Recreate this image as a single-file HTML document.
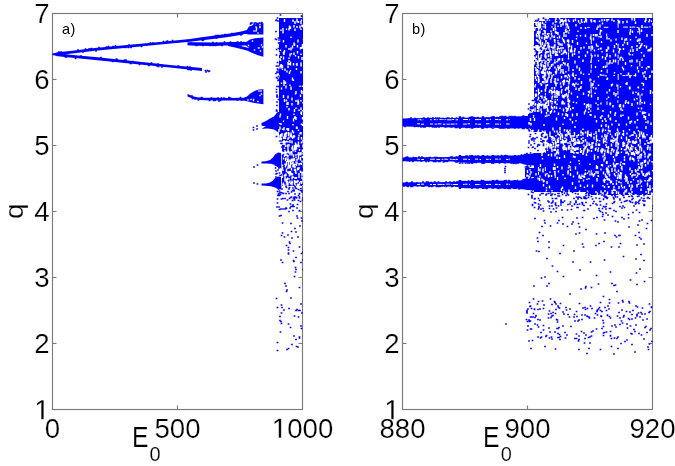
<!DOCTYPE html>
<html><head><meta charset="utf-8"><style>
html,body{margin:0;padding:0;background:#fff}
body{width:675px;height:466px;overflow:hidden}
svg{display:block;filter:blur(.4px)}
</style></head><body>
<svg width="675" height="466" viewBox="0 0 675 466" font-family="'Liberation Sans', sans-serif">
<defs><clipPath id="c"><rect x="52" y="13" width="251" height="397"/><rect x="402" y="13" width="251" height="397"/></clipPath></defs>
<rect x="52.5" y="13.5" width="250.0" height="396.0" fill="none" stroke="#7a7a7a" stroke-width="1.15"/>
<path d="M52.5 343.5h4M302.5 343.5h-4M52.5 277.5h4M302.5 277.5h-4M52.5 211.5h4M302.5 211.5h-4M52.5 145.5h4M302.5 145.5h-4M52.5 79.5h4M302.5 79.5h-4M177.5 409.5v-4M177.5 13.5v4" stroke="#7a7a7a" stroke-width="1.15" fill="none"/><rect x="402.5" y="13.5" width="250.0" height="396.0" fill="none" stroke="#7a7a7a" stroke-width="1.15"/>
<path d="M402.5 343.5h4M652.5 343.5h-4M402.5 277.5h4M652.5 277.5h-4M402.5 211.5h4M652.5 211.5h-4M402.5 145.5h4M652.5 145.5h-4M402.5 79.5h4M652.5 79.5h-4M527.5 409.5v-4M527.5 13.5v4" stroke="#7a7a7a" stroke-width="1.15" fill="none"/>
<g clip-path="url(#c)">
<path fill="#0000ff" d="M52.3 53.5 60 52 70 51 95 48 135 44.3 160 41.9 190 38.9 200 37.6 215 35.6 230 33.5 240 31.8 246 30.3 246 33.3 240 35 230 36.7 215 38.8 200 40.6 190 41.7 160 44.5 135 46.9 95 50.8 70 53.8 60 54.8 52.3 55.1ZM52.3 53.5 60 53.6 70 54.7 95 57.1 135 61.2 170 65 202 68.1 202 71 170 67.6 135 64 95 59.9 70 57.5 60 56.4 52.3 55.1ZM187.5 42.3 195 42.3 215 42.5 230 42 245 42.1 247 42 247 45.2 245 45.5 230 45.2 215 45.9 195 45.7 187.5 45.3ZM228 43.5 236 45 245 47 252 49 252 52 245 50 236 47.8 228 46.1ZM244 31.5 247 29.8 249 26.5 252 25.6 255 24.6 258 23.6 263.4 23.2 263.4 34.6 255 34.5 249 34.4 244 33.8ZM244 43 247 41.5 250 39.6 255 38.3 263.4 37.4 263.4 56.8 258 55.2 253 53.3 249 51.5 246 49.8 250 48.8 246 45.6ZM187.5 93.9 190 95 193 96.3 197 97.3 205 97.7 215 97.8 230 97.9 240 97.7 246 97.9 246 100.7 240 100.5 230 100.5 215 100.6 205 100.3 197 99.7 193 98.5 190 97.4 187.5 96.5ZM243 98.2 247 96.5 250 93.8 255 90.8 259 89.6 263.4 89.2 263.4 104.2 258 103.6 252 102.5 247 101.2 243 100.5ZM261.5 123 266 121 270 118.5 274 116.5 277 112.5 280 111 282 132.5 278 132 274 129.5 268 128.5 261.5 128.8 266 126.2 261.5 125.8ZM261.5 161.6 266 161.2 270 160 273 157.5 275 154.5 278 152.5 281 153 281.5 168.5 278 167.5 275 165 271 163.8 266 163.5 261.5 163.4ZM261.5 183.6 266 183.4 270 182.6 273 180.5 275 178 278 176.5 281 177 281.5 189.5 278 189 275 187.5 271 186.2 266 185.8 261.5 185.6ZM402.5 118.4 430 118.1 460 117.8 490 117.2 520 116.3 535 115.6 535 128.8 520 128.3 490 127.8 460 127.4 430 126.9 402.5 126.6ZM402.5 157.4 455 157 462 156 520 155.5 527 153.9 535 153.4 535 165.4 527 164.9 520 163.3 462 162.6 455 161.6 402.5 161.2ZM402.5 182.4 455 182 462 180.9 520 180.5 527 179 535 178.7 535 190.3 527 190 520 188.5 462 187.9 455 186.6 402.5 186.2ZM458.8 155 461.2 155 461.2 163.8 458.8 163.8ZM458.8 180 461.2 180 461.2 189 458.8 189ZM458.8 116.3 461.2 116.3 461.2 128.7 458.8 128.7ZM470.8 155 473.2 155 473.2 163.8 470.8 163.8ZM470.8 180 473.2 180 473.2 189 470.8 189ZM470.8 116.3 473.2 116.3 473.2 128.7 470.8 128.7ZM481.8 155 484.2 155 484.2 163.8 481.8 163.8ZM481.8 180 484.2 180 484.2 189 481.8 189ZM481.8 116.3 484.2 116.3 484.2 128.7 481.8 128.7ZM491.8 155 494.2 155 494.2 163.8 491.8 163.8ZM491.8 180 494.2 180 494.2 189 491.8 189ZM491.8 116.3 494.2 116.3 494.2 128.7 491.8 128.7ZM503.8 155 506.2 155 506.2 163.8 503.8 163.8ZM503.8 180 506.2 180 506.2 189 503.8 189ZM503.8 116.3 506.2 116.3 506.2 128.7 503.8 128.7ZM513.8 155 516.2 155 516.2 163.8 513.8 163.8ZM513.8 180 516.2 180 516.2 189 513.8 189ZM513.8 116.3 516.2 116.3 516.2 128.7 513.8 128.7ZM279 18h27v3h-27zM549 18h105v3h-105zM279 21h27v3h-27zM534 21h123v3h-123zM279 24h27v3h-27zM534 24h123v3h-123zM279 27h27v3h-27zM534 27h123v3h-123zM279 30h27v3h-27zM534 30h123v3h-123zM279 33h27v3h-27zM534 33h123v3h-123zM279 36h27v3h-27zM534 36h123v3h-123zM279 39h27v3h-27zM534 39h123v3h-123zM279 42h27v3h-27zM534 42h123v3h-123zM279 45h27v3h-27zM546 45h111v3h-111zM279 48h27v3h-27zM546 48h111v3h-111zM279 51h27v3h-27zM534 51h123v3h-123zM279 54h27v3h-27zM534 54h123v3h-123zM279 57h27v3h-27zM534 57h123v3h-123zM279 60h27v3h-27zM534 60h123v3h-123zM279 63h27v3h-27zM534 63h123v3h-123zM279 66h27v3h-27zM534 66h123v3h-123zM279 69h27v3h-27zM534 69h123v3h-123zM279 72h27v3h-27zM534 72h123v3h-123zM279 75h27v3h-27zM534 75h123v3h-123zM279 78h27v3h-27zM534 78h123v3h-123zM279 81h27v3h-27zM534 81h123v3h-123zM279 84h27v3h-27zM534 84h123v3h-123zM279 87h27v3h-27zM534 87h123v3h-123zM279 90h27v3h-27zM534 90h123v3h-123zM279 93h27v3h-27zM534 93h123v3h-123zM279 96h27v3h-27zM534 96h123v3h-123zM279 99h27v3h-27zM534 99h123v3h-123zM279 102h27v3h-27zM534 102h123v3h-123zM279 105h27v3h-27zM534 105h123v3h-123zM279 108h27v3h-27zM534 108h123v3h-123zM279 111h27v3h-27zM531 111h126v3h-126zM279 114h27v3h-27zM528 114h129v3h-129zM279 117h27v3h-27zM528 117h129v3h-129zM279 120h27v3h-27zM528 120h129v3h-129zM279 123h27v3h-27zM528 123h129v3h-129zM279 126h27v3h-27zM528 126h129v3h-129zM279 129h27v3h-27zM531 129h123v3h-123zM279 132h27v3h-27zM546 132h108v3h-108zM279 135h27v3h-27zM546 135h108v3h-108zM282 138h24v3h-24zM546 138h108v3h-108zM282 141h24v3h-24zM546 141h108v3h-108zM282 144h24v3h-24zM546 144h108v3h-108zM282 147h24v3h-24zM546 147h108v3h-108zM282 150h24v3h-24zM546 150h108v3h-108zM282 153h24v3h-24zM534 153h120v3h-120zM282 156h24v3h-24zM534 156h123v3h-123zM282 159h24v3h-24zM534 159h123v3h-123zM282 162h24v3h-24zM534 162h123v3h-123zM282 165h24v3h-24zM534 165h120v3h-120zM282 168h24v3h-24zM525 168h129v3h-129zM282 171h24v3h-24zM525 171h129v3h-129zM282 174h24v3h-24zM525 174h129v3h-129zM282 177h24v3h-24zM534 177h120v3h-120zM282 180h24v3h-24zM534 180h123v3h-123zM282 183h24v3h-24zM534 183h123v3h-123zM534 186h123v3h-123zM534 189h123v3h-123zM588 192h66v3h-66z"/>
<path transform="scale(.5)" stroke="#fff" stroke-width="2.8" d="M569 38v6m17-5v5m8-7v6m9-4v3m496-3v3m13-6v4m7-4v3m3-1v6m3-6v6m6-7v6m1-5v6m15-5v5m4-7v5m12-4v6m8-7v6m0-7v4m2-3v3m10-1v6m21-7v5m5-5v4m5-4v3m3-3v3m7-4v5m12-3v3m28-6v5m5-5v6m22-3v6m1-9v6m7-4v4m-737 17v3m4-6v5m7-4v3m5-4v5m1-10v6m2-4v5m7-8v5m2-13v6m0 9v5m4-22v5m0 7v4m3-14v4m3 5v6m2-15v6m0 9v3m2-11v5m2-4v5m2 2v6m461-4v3m0-19v3m0 12v3m1-5v3m2-16v6m0-4v5m1-4v6m2 1v3m0-13v4m1 2v5m1-10v5m1 5v3m0-4v6m1-11v5m1 0v4m0-12v3m1 5v3m0-12v6m0 0v6m2 1v3m2-17v5m3-1v4m3 1v5m15-12v4m1 7v6m4-6v5m2-19v3m3 6v3m4-11v4m1-6v4m1 3v6m4-9v6m1-10v4m2-5v3m2 16v4m1-6v3m0-15v6m3-4v6m2 0v5m2 1v3m0-21v3m13 4v5m5-13v5m3 0v3m2 6v3m0-2v3m2-15v3m5-4v4m2 8v4m2-18v5m15-5v4m2-4v5m4 10v5m2-9v5m3-15v3m1 5v6m1 4v6m4-20v4m23-9v4m9-3v5m2-5v6m7-5v5m8-6v5m7 7v3m0 2v6m10-21v5m7 7v6m5-2v5m1-14v5m6-14v3m8-2v3m5-4v3m3 2v5m6 3v3m1-7v3m1 3v6m-755 16v6m7-23v6m16 6v3m14 3v6m11-7v3m466-14v6m0 5v4m1-12v5m1-12v3m0 13v5m0-22v6m2-7v5m1 4v5m0-9v4m1 0v4m0-1v6m1-18v6m1 12v6m3-12v5m2-12v4m2-10v3m1 11v6m1-10v3m0-12v6m0-1v3m0-7v5m2 4v6m2-4v5m0-6v3m1-9v4m2 0v5m1-9v3m3 6v4m1-18v3m1 1v5m1 0v5m4-3v4m1-5v4m0 3v5m2-21v5m2-4v5m2 6v3m1-13v6m3 1v6m6-2v4m2-1v6m1-20v5m0 0v5m4-13v5m0 3v5m2-13v4m1 14v5m2-5v6m16-9v3m1-9v3m2-12v3m5 6v3m10-4v5m10-1v6m6-4v6m0-13v4m4-4v5m3-5v5m4-1v3m2-10v5m2 1v5m1-16v3m11 10v6m4-3v3m4 0v4m10-6v4m4-21v6m8 9v5m6-3v5m3-6v5m7-17v6m1 8v3m4-20v5m7 7v3m3 3v5m1-22v3m2 12v6m16-15v6m10-6v4m5-6v4m1 8v3m1-20v6m0-2v3m1 6v6m1-18v6m-752 31v3m6-22v5m5 5v5m6 1v4m4-5v6m3-10v6m3-12v3m0-3v6m1-4v5m6-2v5m6-1v5m3-6v5m1-6v4m0-8v6m3 0v5m0-9v3m2 2v4m1-7v3m467-12v4m3-2v5m3-1v4m1-9v6m5-3v6m2-13v4m1 10v4m0-4v5m2-15v4m1 3v3m0-5v6m1-10v6m1 3v5m1-8v4m1 4v6m3-12v3m3-3v5m0 1v6m2-12v4m1-8v4m6 3v5m1-9v6m0-18v3m0 1v3m2-2v6m1 5v3m2-12v4m1 3v4m1 1v4m1-16v5m2 2v4m3-15v4m0-6v3m1 15v4m6-16v4m1-4v5m0-1v6m2-8v5m2 5v6m1-6v4m1-12v6m0 1v3m0-8v5m2-18v6m5 10v5m5-17v6m7 4v5m6-6v4m5-12v3m5 4v6m6-7v6m1-5v4m0-1v4m4 0v4m4-16v6m3-2v3m1 3v3m4-4v3m1-4v4m1-17v4m10 12v6m1-5v4m2-10v3m0-2v5m1-6v6m10 0v6m2-15v3m0 0v3m4-10v4m6 6v6m2-5v3m5-12v4m1 4v4m2-17v4m6-3v6m6 9v5m3-12v5m2 1v6m8-8v6m0-12v4m5 0v4m0-13v3m0 7v3m2-7v5m1-7v4m1-4v3m1-6v3m5 1v3m4-2v6m3 2v4m2-5v5m2-5v5m1-6v5m1-7v4m6-17v6m3 11v6m2-13v5m-755 7v6m2 6v5m1-3v4m1-10v4m5-3v6m0-16v6m1-4v5m1-10v5m9 10v3m2-11v6m3-7v3m5-4v5m3 0v3m4-11v5m2 5v3m0-2v4m5-10v3m2 4v6m7-2v3m0-3v6m457-10v6m1-7v4m0-12v5m1-8v6m0 7v5m2-2v6m1-13v5m5 0v4m0-18v6m2 7v6m0-18v4m1 10v5m1-11v4m0-1v3m1-15v4m0-3v3m0 3v3m5 7v3m2-13v6m1-11v6m1 1v6m1-15v5m3 10v5m0-20v4m0 11v4m1-12v5m1 3v5m3-20v5m0-1v6m1 5v4m0-11v5m0-3v4m4-14v6m1-6v4m4-4v3m0 1v6m1-5v5m2-10v5m1 1v4m1 5v6m0-6v3m3-4v5m0-20v5m4 1v3m2 6v6m1-17v4m2-8v6m2-7v6m1-4v3m2-1v5m4 7v3m5-19v3m2-2v4m1 2v6m4-8v5m0-10v4m9 8v4m0-14v5m8 12v5m5-15v5m4-12v5m9 3v5m6-6v4m6-4v5m0-5v4m8-11v3m1 7v5m6-3v6m2-9v3m1-7v6m6-3v5m7 4v6m4-6v6m0-18v6m7-11v5m2 8v6m2-8v3m3-1v3m1 0v4m12-17v4m2-1v3m4 8v6m1-17v3m9 8v6m9-21v3m1 10v5m4-13v5m21-2v6m1-12v4m2-7v5m1-1v6m0 5v4m-755 11v4m3-8v5m1-2v5m0-5v4m1-8v6m2-4v6m0 1v3m5-3v5m6-18v6m0 1v5m2-10v4m0-10v4m3-1v6m0-1v3m6-5v5m6 5v4m0-13v3m1-4v6m8-3v4m0-8v6m7-11v6m1-5v3m459-1v6m2 5v3m1-1v6m2-12v3m1 5v4m0-21v3m0-1v6m1 4v3m1-7v3m2-12v4m2 11v4m1-13v6m0-5v4m1-3v6m1-14v6m2 13v6m1-16v5m0 4v5m1-9v4m1 0v3m1-18v5m0 2v5m0 2v3m2-18v3m0-4v3m1 12v3m3-15v3m0 0v6m2 3v4m1-18v3m1 8v5m3-10v5m0-4v5m3-7v4m3-7v3m1 6v4m0-13v3m3 10v6m1-21v3m2 5v6m1 1v4m0-7v3m3-5v6m1-9v6m1 3v6m2-16v3m2 7v6m1-20v4m3-3v6m5-3v5m1-7v5m10 7v4m4-21v6m4 4v6m5-2v4m0-3v6m23-21v5m9 6v4m6-16v3m10 9v4m4-5v5m7-11v4m2-8v6m0-7v3m4 2v3m21 5v4m2-1v5m0-4v4m4-17v6m9-10v5m3 5v3m12 0v4m0-3v5m9-6v3m9-1v4m3-7v3m2-3v4m12 2v6m0-23v5m1 0v6m-753 18v5m16-14v4m5-2v5m2-8v3m4 12v6m2-2v3m15-20v5m8 4v4m0-8v5m461 0v6m2-15v6m0 9v4m2-13v3m0-1v3m0-12v5m2 5v6m1 1v5m0-6v5m5-20v3m1-4v6m0-5v5m2 3v5m0-14v6m1-8v6m1 5v6m1 0v4m0-12v4m0-9v5m0 1v3m1 2v4m5-17v5m0 12v6m1-10v4m1-12v3m1-5v5m0 0v6m1-14v5m3-2v3m0-4v5m0 9v5m1-8v3m1-8v5m3-7v3m4-9v4m0 10v5m1-18v6m1-8v6m3 10v5m5-18v3m2 5v5m3-14v4m1-3v4m2 11v6m1-15v5m0-4v4m2-5v4m0-12v3m3 8v4m2-9v4m2 5v6m0-12v4m6-7v4m1-7v6m1-1v4m3 0v5m2-10v3m6 4v4m4-17v5m5-1v3m11-3v3m2 7v6m17-11v3m4-7v3m2-11v4m9 6v3m2 4v3m1-5v4m14-15v3m13-1v3m15-4v5m3 1v5m11-9v6m6-13v5m9-1v5m2 1v5m2-13v5m2 7v6m7-7v3m1-6v5m4-14v5m4 11v5m2-7v4m2-16v3m-749 19v3m0 7v4m5-19v6m0 0v6m3-9v5m1 3v6m8-8v3m2 4v4m0-7v4m18-6v3m5-3v3m7-13v5m458 5v4m1-7v3m6-10v5m0 11v6m4-17v3m2-2v5m2-10v4m3-4v5m3 10v6m1-14v6m0-1v4m1-17v5m2 2v4m5 7v3m2-19v3m2 8v5m5-5v5m0-17v3m2-2v6m1-1v5m2-8v3m7-3v4m1 2v5m2 2v3m1-19v3m2 1v5m0-11v5m1-2v6m3 8v5m2-8v3m1-2v4m0-19v4m3 7v6m0-15v3m1-2v6m7-1v3m1-5v5m1-5v5m2-3v6m3 1v5m0-15v4m4-2v3m2 6v6m3-8v4m1-6v5m1-15v6m21-1v6m2-7v5m1 3v3m1-16v4m4 10v4m5-10v3m22 6v5m4-15v5m2-6v4m9-2v4m7-1v3m11-9v3m2-5v6m5 3v6m1-6v6m16-6v3m1-3v4m7-12v3m2 9v3m1-14v6m27 2v4m0-18v6m-747 24v6m2 2v6m4-5v4m3-12v6m8-2v6m7-15v3m1-7v6m4 11v5m5-15v5m2-14v6m1-4v6m464 6v3m3-6v3m0-7v5m2-5v6m0-13v3m3 15v3m1-6v3m2-14v4m3 3v3m1-14v4m1 7v6m4 0v6m1-10v3m4 0v5m6-19v4m4-5v4m0-5v3m1-1v6m0 5v6m0-15v5m1 2v3m1-12v4m3-6v6m1 6v4m3-13v6m1 1v6m0-16v5m1-2v4m0-1v4m0 8v3m3-14v5m0-10v3m0-2v6m5-8v6m2 2v6m2-5v6m1-4v5m2-9v6m3-8v5m1-2v3m1 0v5m1 1v6m2-24v6m5-1v4m12 3v4m12-11v5m10-8v3m0 3v5m2-12v6m4 2v6m7-10v3m6 6v6m18-17v4m3 6v3m11-12v6m3 0v3m1-7v5m34-8v5m3 9v4m3-18v3m2 10v3m2-13v5m1-6v5m4 8v6m3-17v4m17-11v5m0-2v5m5-5v4m4 8v3m3-13v6m0-2v6m1-6v3m-740 13v5m0 2v3m2-11v6m2 6v5m6-15v5m5 7v6m3-9v3m0-18v4m4 0v6m1-8v6m1 11v3m4-7v5m0-20v3m4 1v3m5-2v4m458-8v4m1 13v6m0-9v5m0-13v5m1-6v4m4-2v6m0-1v5m1-7v6m1-3v3m0-8v6m1-5v6m1-10v3m1-1v4m0-12v3m2 0v4m0 10v5m1-14v5m3-6v4m2 3v4m0-8v4m1-6v6m2-9v3m0 0v3m0 0v6m2-14v5m1 2v6m1-1v6m1-20v4m0 14v5m1-24v6m0 0v6m4-12v3m1-3v5m1 6v6m1-11v3m1 5v5m0-17v3m4 7v5m1-15v4m1-4v4m2 7v5m1-11v3m6 5v3m4-15v6m1-8v6m1-5v6m0-4v5m1 8v6m2-18v4m3 5v4m2 0v5m1-7v6m1-6v5m0-3v3m1-16v4m1 0v6m1-15v5m0 6v4m2 1v5m5-7v4m1-15v3m6-2v3m16-1v4m2 9v5m2-13v6m1-9v4m3-5v6m0-1v3m1-6v6m0 1v4m14-15v3m4 7v5m0-12v3m6-6v4m18-4v6m1-6v4m5 1v5m13-6v6m2-7v6m1 1v6m3-2v3m2-13v6m4-12v5m1-8v5m4-1v3m1-4v5m7-2v6m11-8v5m2 6v3m6-3v4m1-15v3m5-4v5m12-1v3m-741 21v4m1-8v4m14 1v6m12-1v6m1-16v3m1 4v4m1-6v4m2-2v6m10-17v5m1-4v6m2-10v3m0 11v5m456-3v6m1-19v3m3-4v3m2 5v6m2 0v6m6-22v4m8-2v5m8 4v3m2-10v4m1 1v4m1-13v3m3 6v3m3-10v6m2-8v5m6-4v4m4 10v6m4-16v5m8-3v4m4 3v4m3-12v6m1-11v3m2 4v6m5 3v3m1-3v4m4-14v6m9-7v6m15-9v6m8-6v3m3 2v3m2-3v4m8-1v5m11-3v3m1-2v4m2-8v4m2-14v4m4 12v4m7-11v6m3 1v3m1-17v5m0 8v6m9-14v5m1-8v4m11 1v5m4-5v3m11 1v6m17-14v6m1 7v4m10-19v6m3 1v6m0-13v5m3 4v4m0-12v3m0 8v5m7-13v5m10-10v5m1-1v6m2-7v4m0-7v5m2 6v5m1-1v6m-756 15v6m1-18v3m1 4v6m2-13v4m3 7v3m2-19v3m1 10v6m0-3v4m6-5v4m2-3v5m1-6v6m9-14v3m7 2v5m1-5v5m3 1v3m6-15v3m2-2v4m2-9v6m2-7v5m0 0v3m448 6v3m1-15v5m0 8v4m1-16v4m3-3v5m4 7v5m11-4v4m11-15v4m18 3v6m14-7v6m6-13v3m3 8v5m5-4v5m1-5v3m5-3v4m5-21v5m5 5v4m2-16v3m14 14v3m27-20v5m5 13v6m5-15v5m2-14v4m1 13v5m5-3v3m1-14v6m0-14v4m5 15v4m0-12v6m7-10v4m8-11v4m3 13v5m3-15v5m15-5v4m6 7v3m1-19v5m0-2v3m3-7v4m7-3v5m4 6v4m18-5v6m0-15v3m4-5v5m0-2v3m6-2v5m9 1v5m1-13v3m-752 24v6m1-8v3m0 3v6m1-9v4m2-7v5m0-7v5m3 2v5m0-3v3m2-11v6m1 1v4m0-6v3m1-10v4m0 6v3m1-10v6m1-10v4m3 7v5m1-16v6m0-6v3m0 2v3m1-7v5m0 3v4m3-7v3m1-8v5m0 2v3m1-6v6m2-14v3m0-4v5m0 8v5m2-15v4m0 4v5m1-6v5m1-4v4m8-1v6m1-11v4m2-8v3m2-4v5m1 5v5m3 0v6m3-6v4m0-22v4m0 13v3m1-5v4m454-20v5m1-3v5m10-4v4m10-6v6m1-5v4m4-5v5m2 8v4m1-11v4m0 1v5m0-1v5m0-11v3m1-5v6m1-1v6m5-8v3m0-11v5m0-2v6m3 0v5m1 1v3m1-9v5m1-4v5m1 1v3m2-21v4m0 10v4m3-9v3m2-12v4m1 13v3m1-4v6m0-18v5m1 5v3m2-10v4m1-11v5m1 9v5m0-9v4m0-9v3m3-2v6m1 4v5m0-12v6m0 3v5m5-9v3m1-10v5m2 4v6m1-16v6m2-10v3m1-3v6m3-4v6m1 0v4m1-4v4m0-5v6m1 0v5m3-11v5m1 4v5m0-8v3m2-15v6m0 0v3m1 4v6m0-7v3m4-9v6m2 2v4m1-14v4m5-11v6m0 2v3m1 4v4m2-16v4m1 6v3m0-12v6m5-8v4m0 11v5m4-15v6m0-11v6m1-8v4m0-1v5m3-1v4m3-4v5m6-6v3m0 3v6m4-17v6m1 1v6m0 0v5m1-1v3m1-3v3m9-11v4m1-15v5m2 13v3m1-6v5m2-12v6m2 1v4m0-6v3m2-7v4m2-8v3m4-8v5m1 2v3m1 9v5m2-5v5m0-13v4m2 4v6m1-10v3m3-1v6m1-6v3m0-14v6m3 3v6m0-17v3m1 4v6m0-9v4m4-7v4m4 4v5m2-11v3m2-4v6m0-12v5m6 10v6m0-8v6m1-13v3m0-4v4m3 9v5m1-5v6m2-13v3m3-5v3m3-4v4m2-10v5m2-2v3m2 8v3m1-10v6m4-1v4m0-18v3m2 7v4m0-7v5m1 6v5m3-20v6m2 0v5m1-2v5m1-12v4m1 0v5m2-2v5m4-9v3m6 3v6m0-5v5m2-7v5m0-3v3m1-8v3m1 2v5m1-4v5m0-2v5m0-7v5m-740 1v6m1-4v5m1-8v5m1-7v6m1 1v3m0 5v3m1-16v5m1 2v3m0-2v4m2-13v4m2 4v5m1-12v3m0 13v6m0-11v5m2-10v5m2-13v6m4-2v3m0-5v3m0-4v3m0 10v5m1-8v6m1 0v6m3-9v4m0 0v3m0-11v4m1-2v5m1-8v6m0 0v5m0-15v5m1 2v5m0-10v4m1-1v5m0-2v6m2-9v4m0-5v4m2-10v3m0-2v6m1 0v5m1 3v4m4-19v4m2 12v5m1-15v6m1-4v3m1-11v4m0 9v3m1-14v5m0 4v6m1-19v4m482 4v5m1-11v5m1 5v5m1-8v6m0-11v5m0 9v3m2-16v6m1-4v5m2-1v5m1-10v5m2 2v5m0-11v5m1 6v5m0-6v4m0-9v3m1-13v3m2-1v5m0 1v4m1 3v4m2-5v3m1-19v4m0 6v5m0-12v4m0 10v4m1-18v6m0 0v3m2-4v3m1-11v5m1 4v5m0 3v4m1-14v4m0-12v6m5-4v5m2-3v3m1-3v3m1 6v4m0-3v4m1-14v6m0-10v6m0 5v3m0 0v5m0-4v6m2-11v5m1-2v4m0-3v6m0-19v3m0-3v5m1-6v5m1-4v5m1 9v6m3-17v4m1 5v6m1-8v4m0-5v4m2 1v4m0-17v6m2-1v5m2-12v4m0 12v5m0-9v4m1-2v3m2-3v4m1-1v4m0-15v6m1-8v3m0 9v6m2-15v3m0 7v5m1-19v4m0 7v6m3-17v5m0 8v4m1-6v4m0-3v5m1-15v3m1-7v4m0-4v6m1-5v5m1-2v3m1 9v4m0-5v5m3-17v4m2-8v3m1-3v5m1 4v4m0 5v3m0-5v5m2-7v5m1-7v5m2-6v4m1-7v4m0-9v6m1 8v3m3-15v6m0 8v4m1-14v3m1-4v3m2 1v6m1-4v3m1-9v4m0-8v4m1 3v6m1-13v4m5 8v6m1-16v6m0 3v4m1-18v4m3 13v6m1-9v3m0-11v5m2-5v5m0-12v3m3 16v6m2-9v3m1-1v6m1-7v5m1-21v6m3-6v3m0 15v6m1-24v4m1 3v4m1 0v4m3 2v6m0-10v3m1-5v3m0 0v3m6-11v6m1 3v5m1-4v4m1-19v4m2 13v3m0-22v3m4 1v5m0-1v6m2 5v4m0-22v5m2 7v6m1-13v4m6 6v4m3-15v4m0 0v5m0-10v5m1-6v6m0 1v4m2-9v3m0 1v3m0 6v3m3-4v4m1-12v5m0-1v5m2-9v6m0-2v3m1-13v6m1 4v6m3-17v4m0 12v6m1-10v6m2-11v6m1 1v5m1-20v6m1 5v3m1-14v4m1-2v5m3 8v4m0-6v3m0-15v6m1-7v5m1 12v4m0-20v4m4 2v4m0-3v4m4-2v5m2 2v5m0-8v5m7-14v4m4-10v3m1 11v6m1-8v5m0-7v6m0-12v4m2-3v3m2 7v4m0-3v5m0-8v6m1-17v5m1-6v6m2-5v4m-739 17v6m1-4v3m1 7v4m1-15v3m1 3v4m1-8v5m0-11v6m1 10v6m1-14v4m0 3v4m0-16v5m2-5v3m1 3v6m0-6v5m0 4v6m1-14v3m0 3v3m0-9v5m1-14v6m1 12v5m2-21v4m0 0v4m1 8v4m2-6v5m0-20v5m1-2v6m1 6v4m2-3v5m0-13v5m0-6v4m1 3v4m1-3v5m2-21v3m1 9v3m0-8v4m2 5v5m2-15v3m1 1v4m0-6v4m0-9v5m0 6v4m3-14v6m1 7v3m0-7v4m0-10v3m1-7v6m0-6v3m3 5v4m1-11v4m3-9v5m475 1v6m1 4v3m12-11v4m6-5v6m7-6v6m3-8v3m0-4v5m1 4v5m0-17v6m1-6v4m2-2v6m2 5v4m10-8v6m13-16v6m1-5v4m2-2v3m1-4v3m1 6v4m1-11v4m2 4v4m3-12v3m3-3v4m5-6v4m1-3v3m1-6v3m3 2v5m1-9v6m1-7v3m5 4v5m2-12v6m8-6v4m6 10v6m0-11v5m7-2v5m8-15v5m2 4v4m2 2v6m1-17v6m1 1v6m5-19v6m2-4v5m5-3v6m1-10v3m4-1v3m0 7v4m2 1v6m3-16v6m1-10v3m1 0v6m2-8v4m1-4v4m6-5v3m6 11v5m0-10v4m3-13v5m3-4v3m0-4v3m2 0v5m3 4v6m1-8v6m2-15v6m2 5v5m0-15v5m1-6v6m1-5v4m0-6v5m0 8v4m1-1v4m1-17v6m2-10v3m2-2v5m2-7v5m1 6v6m0-13v4m1 10v4m1-21v5m3 1v3m1 1v5m1-10v5m5-11v5m2 6v3m0-10v6m1 8v6m5-14v6m2-10v6m1-6v4m0 8v4m2-16v4m8 5v6m-744 7v4m0 1v5m1 0v3m4-15v3m1-1v6m2-8v4m0 7v6m0-22v4m0-4v5m0 10v3m3-7v5m1-14v6m0-1v4m2 0v4m1-7v4m1-8v6m0-10v4m0 6v4m2 0v5m1-16v4m0-8v3m2 0v5m0 1v5m1-7v3m0-2v4m1-1v3m1-7v4m0 6v4m1-15v3m0 7v5m0-10v4m1 3v3m1-19v3m1 2v4m1-9v5m1 7v6m2-6v5m1-14v3m0-3v5m0 3v4m2-12v3m3-3v4m1-9v4m3 5v6m3-14v6m2 0v3m448 7v3m20-4v6m1-15v6m5 3v4m21-7v6m2-13v5m1 3v5m5-8v4m9-3v6m14-9v3m2-1v4m1-13v3m0 11v5m10-9v6m7-19v3m1 3v3m12 10v3m9-15v3m13 0v6m0-1v3m2-6v6m7-1v4m1-13v4m2-4v5m8-10v5m0 8v4m1-4v5m0-19v6m1 11v3m0-3v5m1-7v4m0-3v6m1-13v4m4-5v3m3 3v4m0-2v6m3-19v5m1-1v6m2 2v6m1-14v6m2-9v4m3-4v3m1 10v5m4-17v5m1-9v3m1 7v5m1-2v5m0-9v3m2-9v3m3-3v4m11 5v6m11-3v5m5-6v5m1-15v3m1 2v5m4-12v6m1 3v4m1-8v6m1-12v5m4-9v5m0-4v5m2 2v5m5-10v6m8-7v3m3-1v6m0 9v4m5-17v4m-748 17v5m0-1v5m1-5v4m4-6v3m1 2v6m0-11v6m0 4v4m1-14v3m1-5v5m1 5v3m0-3v6m0-5v6m2-9v5m0-17v3m2-1v3m1-6v4m0 10v3m1-12v6m0-11v5m2-3v4m0-6v6m1-3v6m2 2v6m0-13v4m1-2v3m0-4v3m1 2v4m4-2v4m1-17v5m1 8v4m0-15v5m1 6v3m5-7v6m0-10v6m3-11v5m3 7v5m0-15v5m0-1v3m0-3v5m2-8v3m0 11v5m1-5v3m0-6v4m1-2v4m0-5v6m1-13v5m1-11v6m1-1v6m443-5v6m1-15v6m1 4v4m3-2v6m1-11v4m2-9v5m10-1v5m4 4v4m3-3v6m1-11v4m4 2v4m2-20v4m1 14v6m4-18v6m3-7v3m3 0v6m1-5v4m2-11v3m3 4v4m6-12v3m1 1v5m5 3v6m2-19v4m9 3v3m4 4v3m6-14v5m0-8v4m5 1v6m6-1v4m8-9v3m0-6v5m3 3v6m1-8v4m2 0v5m2-3v3m1-9v5m3-3v4m0 4v4m2-11v4m0-9v4m2-6v5m3 7v3m1-15v3m3 8v3m0-18v4m2 2v3m0-2v3m4-6v6m3-3v6m2-8v5m3-9v5m2 9v4m2-10v3m0-11v6m1 3v3m10 5v4m0-20v6m2 8v3m0-1v6m1-7v4m1-15v6m1-2v5m2 0v4m0-8v5m2-13v5m0 7v5m2-20v5m1 1v6m0 4v5m10-16v5m2-1v3m2-10v3m2 8v4m4-9v5m0-1v5m1-8v6m0-7v6m1-11v4m1 0v5m0 1v5m0-8v4m1-10v3m7 8v3m1-7v4m0-7v5m1 5v5m1-12v5m1-3v6m0-1v3m7-16v4m3 0v5m0-15v6m2 2v4m1 6v3m3-13v4m2-12v5m1 8v3m2-6v3m0-8v4m3-3v4m5-9v3m1-3v6m2 0v4m1-5v6m3-1v3m2-6v5m1-7v3m2-4v6m3-8v5m0 11v4m0-6v3m1-13v3m1 6v5m0-7v4m2-3v3m3-18v3m3 10v6m-742 12v5m0-9v3m1-2v5m0-8v4m3 0v6m3-14v6m1 1v3m0-4v6m1-12v4m1 0v6m3-8v3m1-5v3m1 1v4m2-5v5m1-3v5m0-9v6m0-7v6m1-4v3m4-6v4m0 1v4m1-8v5m0 1v3m1-8v4m0 4v4m3-13v5m1 1v4m0-4v5m0-2v5m1-15v4m0 7v3m1-6v4m2-8v6m1 1v6m1-15v3m2-1v4m0-6v6m3 2v3m1-11v4m2-5v5m1 6v6m477-10v5m1-13v4m5 15v3m0-8v3m1-15v6m5 3v6m24-1v6m2-9v3m0-2v4m13 1v6m7-21v6m6 3v5m7-17v4m3 4v5m8-1v3m6-7v5m10-5v6m9-15v3m12 7v3m3-1v4m0-13v3m6 1v3m2 2v4m1-4v3m3-13v5m0-6v6m2-6v5m3 0v4m1 7v5m1-10v4m0 1v5m3-3v3m2-17v5m0-10v3m5 9v6m0-16v4m4-2v3m1 2v5m2 0v3m4-5v5m4 1v5m3-21v6m3 1v5m3-12v4m0 9v6m2-12v3m0 0v4m1-5v3m9-4v5m0-7v6m2-14v5m1 2v3m5 7v5m1-21v4m0 6v3m7-14v3m5 5v5m0-8v6m0-11v3m1 13v4m2-3v5m2-10v5m0-7v6m1 1v4m5-6v3m2-14v5m1-3v5m0 1v4m0-6v4m1-10v6m3-6v6m-221 13v6m12-9v3m21 1v4m3-7v5m7-2v3m24-6v4m16-4v5m5 4v6m0-8v4m5-2v5m7-13v4m2 3v4m1-8v4m5 0v5m2-13v5m1 1v5m2-2v6m1-12v6m4-10v4m1 5v3m2-3v5m1-7v4m1-8v5m9-8v3m0 1v3m1-4v5m1-4v3m7-5v6m4-5v6m3-1v6m8-6v5m0-9v6m2-9v4m2-5v5m6 0v3m1-3v5m0-1v6m1-9v3m3-2v3m1-8v4m6 3v3m2-4v6m1-4v4m12-6v6m7-12v4m2 3v3m3-12v4m0 0v4m0-8v6m6-1v6m1-5v3m0-3v5m3-8v4m4-6v6m0-7v4"/>
<path transform="scale(.5)" stroke="#fff" stroke-width="2.8" stroke-linecap="square" d="M512 54h0m1 2h0m0 3h0m7-6h0m0-4h0m0 6h0m-12 7h0m4 0h0m4 4h0m-19 25h0m8-9h0m12 14h0m1 0h0m5-6h0m2 4h0m-16 6h0m12 2h0m-19 97h0m5 0h0m11-17h0m2 9h0m2-9h0m1 6h0m-27 12h0m11 1h0m9 2h0"/>
<path stroke="#fff" stroke-width="1" d="M417 119.7h2.5M419.9 119.7h3.4M430 119.7h2.3M433.8 119.6h4.2M439.4 119.4h4.3M444.5 119.4h1.9M447.1 119.8h4.5M452.1 119.5h2.1M455.6 119.8h2.4M463 119.5h5M469.1 119.7h.9M475 119.6h3.8M479.2 119.5h1.8M486 119.7h2.5M489.7 119.4h1.3M495 119.4h3.1M498.6 119.7h2.4M506 119.8h2.2M509.4 119.5h.6M417 123.8h2.9M421 124.2h3M430 124h3.1M434.6 124.1h2.7M437.9 123.9h3.5M442.9 124.2h2.5M446.6 124.2h3.1M450.5 124.1h4.1M455.5 124h1.7M457.9 124.2h.1M463 124.1h3.9M467.6 123.8h2.4M475 124h2.4M478.1 124.2h2.9M486 123.8h3.4M490.9 123.9h.1M495 124.1h4M499.8 124.2h1.2M506 124h3.7M417 159.2h3.1M421.3 159.5h2.7M430 159.2h5M436.4 159.4h3.8M441.7 159.3h1.7M444.3 159.2h3.8M449.7 159.2h2.2M452.4 159.4h2.9M455.7 159.4h2.1M463 159.2h4.1M468.5 159.4h1.5M475 159.1h3.1M479.6 159.5h1.4M486 159.3h2.7M489.7 159.4h1.3M495 159.1h3.3M499.3 159.1h1.7M506 159.4h2.5M509.1 159.1h.9M417 184.4h3.1M421 184.2h3M430 184.6h2M433 184.5h2.9M437.4 184.4h4.9M442.6 184.6h2M445.8 184.2h4M450.8 184.2h1.6M453.1 184.5h4.9M463 184.4h1.7M465.1 184.2h2.4M469 184.4h1M475 184.6h4.6M480.6 184.6h.4M486 184.5h2.5M489.2 184.4h1.8M495 184.4h2.8M498.6 184.6h1.7M500.7 184.4h.3M506 184.2h2.3M509.1 184.4h.9M534 27.4h4M538.6 26.9h2.1M542.4 26.9h2.8M551 27h1.9M565.6 27.1h3.7M587.2 27.4h2.5M603.8 27.3h4.5M623.1 27.1h4.9M631.6 27.1h3.7M636.6 27.4h2.2M640.8 27.3h2.4M643.8 27.2h4.5M649.2 26.9h1.5M601 75.2h3.7M613.3 75.5h1.8M622.5 75.6h2.8M625.7 75.3h2.3M628.4 75.6h3.4M633.4 75.6h2.7M538.6 19v5.8M538.4 26.8v3.1M538.4 30.7v4.2M538.4 40.3v1.9M538.3 48.3v2.8M538.4 53.1v5.2M538.2 60v5M538.5 66.6v1.7M538.8 70.2v4.4M538.6 76.2v4.1M538.5 90.6v4.9M538.6 96.5v2M538.3 102.4v4M538.8 107.2v4.8M538.7 131v3.4M538.2 134.9v5.4M538.6 151.1v.9M538.4 167v4.1M538.5 171.7v3.1M545.8 19v4.1M545.4 24v4.6M545.2 30.2v4.1M545.8 40.2v4.3M545.3 46.3v3.6M545.7 51.4v2M545.5 53.8v4.6M545.7 63.1v5.1M545.6 68.9v2.4M545.7 71.8v4.9M545.8 78.6v4.6M545.2 89v2.7M545.4 92.9v2.6M545.4 96.1v3.7M545.8 137.1v2.7M545.5 140.7v5M545.3 167v4M555.3 19v4M555.1 23.9v5.4M555 39.5v3.8M555 44v3.9M555 48.5v4.7M554.9 59.2v4M555 78.3v5.7M555 91.2v5.7M555.2 98.9v1.6M555.2 102.4v1.6M554.7 110.9v1.1M554.7 137.9v3M555 167v2.2M555.1 170.8v3M555.2 174.5v3.5M568.4 19v2.5M568.8 31.4v2.5M568.7 39.9v3.2M568.6 48.7v2.8M568.5 52.6v5.2M568.8 65.5v5.7M568.4 86.8v3.2M568.4 91.9v1.8M568.3 94.1v2.9M568.7 98.1v3.9M568.3 103.3v5.8M568.4 131v3.8M568.8 146.1v3.6M568.3 167v1.7M568.3 170.3v2.5M590.9 19v2.3M591 34.2v3.4M591.3 38.4v5.6M591 45.8v5.5M591.1 53.2v2.8M591.3 56.7v4.1M591.3 64.4v4M591 69.6v3.2M591 78.8v1.9M591 82.1v5.9M591.2 88.4v5.1M590.9 104.2v3.7M590.8 109.7v2.3M591.2 169.9v3.8M591.2 132.4v4.8M607 19v3M606.7 33.5v3M607 61.7v5.6M607.2 69.3v3.9M606.9 98v1.8M607 101.3v3.5M606.7 135.9v4.7M606.9 141.7v1.6M606.9 167v5.9M618.1 22.5v5.3M618.1 43.8v5M618.1 54.7v3.7M618.2 60.2v4.5M618.2 74.1v5.8M617.9 84.7v5.2M617.9 90.8v3.9M618.2 96.1v2.2M617.8 100.2v2.6M618 142.4v5.5M618 175v3M618.1 130.9v4.7M617.9 142.6v1.9M618.1 151.1v2M618.2 172.8v2.7M639.7 28.9v5.5M640.2 38.2v2.8M639.8 61v5.3M640 94.7v4.1M640 100.6v4.5M640.1 110.8v1.2M640.2 140v4.4M639.7 145.9v4.9M639.7 167v2.1M639.8 131.1v4.5M639.7 155v3.9M640.2 179.4v4.8"/>
<path transform="scale(.5)" stroke="#0000ff" stroke-width="3.4" stroke-linecap="square" d="M555 36h0m6-6h0m42 2h0m1 1h0m473 5h0m10-2h0m0 1h0m4 2h0m219-1h0m1-1h0m1 1h0m-811 10h0m1-1h0m0-1h0m2 0h0m4 3h0m1-3h0m3 0h0m1 2h0m3-1h0m0 1h0m3-2h0m4-1h0m0 2h0m1-1h0m28-5h0m1-1h0m3 2h0m516-1h0m4 0h0m16-1h0m5 0h0m212 0h0m-903 36h0m20-2h0m2-1h0m4-2h0m1 5h0m3-5h0m1 0h0m7 0h0m6-2h0m12 0h0m2-2h0m18 3h0m3-2h0m66 10h0m1-15h0m1 16h0m4-3h0m-386 22h0m7 0h0m2 0h0m3-1h0m15-2h0m15-1h0m4-1h0m9 0h0m5-1h0m20 3h0m6 0h0m1-5h0m4 5h0m21-2h0m18-7h0m5 0h0m21-3h0m6 0h0m2-1h0m10-1h0m37 5h0m10-6h0m1 11h0m12-10h0m1 10h0m1-11h0m13 11h0m6-6h0m0 6h0m5 0h0m2-5h0m11 5h0m5-7h0m12 0h0m13 1h0m1-1h0m1 6h0m1-5h0m2 5h0m3-6h0m0 6h0m6-5h0m65 14h0m4-2h0m0-11h0m1-6h0m511 11h0m0 7h0m1 1h0m9-8h0m2 6h0m1-1h0m1 3h0m2-7h0m6 3h0m1-1h0m-978 13h0m1 4h0m1-1h0m1-5h0m1-1h0m4 0h0m6 5h0m3 5h0m2 0h0m18 3h0m5-17h0m6 12h0m4-8h0m26-2h0m10 13h0m31 3h0m1 1h0m319-9h0m519-8h0m16-1h0m1-1h0m-864 23h0m24-3h0m2 1h0m1-1h0m9 7h0m1 0h0m4-4h0m13 6h0m18 1h0m1 1h0m5-5h0m11 6h0m2-4h0m1 5h0m7 1h0m33-2h0m18 1h0m1 6h0m3 0h0m1-5h0m173-2h0m2-7h0m0 13h0m1-6h0m-174 8h0m29 1h0m1 3h0m3-3h0m2 2h0m2-1h0m133 5h0m1 8h0m1-11h0m1 13h0m1-17h0m0 5h0m1-1h0m0 9h0m-4 26h0m1-6h0m2-12h0m1 12h0m1-13h0m-174 32h0m1 5h0m1 0h0m4 1h0m13-3h0m1 1h0m19 0h0m13 0h0m7 0h0m5 0h0m10-1h0m3 1h0m20-1h0m10 1h0m62-12h0m1 6h0m0 2h0m0 2h0m1 0h0m2 5h0m-160 1h0m22 1h0m9 0h0m2 0h0m8 1h0m3-1h0m34-1h0m8 0h0m71 11h0m0-7h0m503 14h0m1-10h0m3 7h0m1-1h0m0 3h0m2 0h0m0-3h0m1-13h0m0 16h0m2-6h0m0 5h0m1-15h0m-515 19h0m0 2h0m1 0h0m0 8h0m1 7h0m1-9h0m0 4h0m261 6h0m4 0h0m1-2h0m7 2h0m1-1h0m1 1h0m4 0h0m9 0h0m1-1h0m3-1h0m8 0h0m4 1h0m1 0h0m4 1h0m0-1h0m1-1h0m5 0h0m2 2h0m2-2h0m4 0h0m5 1h0m3 0h0m5 0h0m1 0h0m2-1h0m2 0h0m7 0h0m9 0h0m5 1h0m7-1h0m2-1h0m12 0h0m2 0h0m7 0h0m1 1h0m4 0h0m3-1h0m11 0h0m6 1h0m4 0h0m5-1h0m1 0h0m2-1h0m3 0h0m6 1h0m6-1h0m3-1h0m0 1h0m1 1h0m1-2h0m0 1h0m2 0h0m4-1h0m0 2h0m8-2h0m0 1h0m1 0h0m3-1h0m2 1h0m4-1h0m17 0h0m1-1h0m12 0h0m1-5h0m1-6h0m4 12h0m-558 22h0m7-3h0m0 6h0m38-18h0m2 12h0m1-5h0m3 3h0m252 3h0m19 0h0m0-1h0m2 0h0m2 0h0m1 0h0m3 1h0m5 1h0m3-1h0m2 1h0m1-1h0m2 1h0m1-1h0m8 0h0m6 1h0m4 0h0m3 0h0m1 0h0m5 0h0m12-1h0m1 1h0m3-1h0m6 0h0m3 1h0m1-1h0m7 2h0m2-1h0m1 1h0m1-2h0m3 1h0m5 0h0m9 1h0m2 0h0m3-1h0m2 1h0m7 0h0m4-1h0m6 0h0m8 2h0m7-2h0m2 1h0m2 0h0m8 0h0m16 1h0m2 0h0m3 0h0m3 0h0m9 0h0m2 0h0m4-1h0m4 0h0m11 1h0m8 1h0m3 0h0m6-1h0m1 1h0m1 0h0m10 1h0m1-2h0m0 1h0m1 0h0m240 1h0m-801 2h0m46 13h0m505-13h0m1 2h0m1 11h0m1-4h0m2 9h0m3-1h0m0-1h0m2 2h0m1 0h0m1-1h0m1-10h0m3 8h0m8 3h0m1-8h0m1-2h0m0 5h0m2-6h0m3 8h0m3-2h0m0 2h0m217-2h0m0 5h0m-749 4h0m1 0h0m1 0h0m0 5h0m2 7h0m0-7h0m493 8h0m1-13h0m0 4h0m4 4h0m2-10h0m1 15h0m1-1h0m2-12h0m1 5h0m1 10h0m5-4h0m1-3h0m1-1h0m2 1h0m3-7h0m3 1h0m1-3h0m1 7h0m0 3h0m1-9h0m4 16h0m217-5h0m2 0h0m1 2h0m0-3h0m-759 23h0m8-4h0m250 4h0m2 1h0m1-1h0m1-1h0m2 2h0m10-1h0m3 1h0m3 0h0m5-1h0m0-1h0m1 2h0m1 0h0m4-2h0m3 2h0m7 0h0m5-1h0m1 0h0m0 1h0m9-1h0m3 0h0m2 0h0m6 1h0m16 0h0m4-1h0m2 0h0m0-1h0m3 0h0m3 2h0m2-1h0m3-1h0m0 1h0m2 0h0m3-1h0m9 0h0m5-2h0m2 0h0m4 1h0m2-1h0m11 0h0m5 1h0m0-1h0m1 0h0m11 1h0m7 0h0m0-1h0m14 1h0m3 0h0m4-1h0m1 1h0m6-2h0m3 2h0m4-1h0m1-1h0m1 1h0m3 0h0m22 0h0m1 1h0m3-1h0m2-2h0m0 1h0m6-2h0m3 0h0m2-2h0m7-1h0m6 2h0m9-7h0m13 5h0m221 0h0m3-5h0m1 7h0m-806 26h0m7-4h0m36 0h0m0 6h0m2-12h0m5 12h0m257-15h0m4 1h0m2-1h0m5 2h0m9-2h0m7 1h0m1 0h0m9-1h0m0 2h0m5 0h0m10 0h0m2-1h0m0 1h0m1 0h0m1-2h0m1 2h0m5 0h0m2 0h0m1 0h0m7 1h0m2-2h0m1 1h0m2-1h0m3 1h0m14-1h0m3 2h0m3 0h0m10 2h0m6 0h0m4 0h0m3 0h0m1 0h0m4-1h0m1-1h0m1 1h0m3-1h0m1 1h0m1-1h0m3 1h0m11 1h0m3-2h0m0 2h0m1 0h0m1 0h0m15 0h0m2-1h0m3 0h0m1-1h0m0 1h0m9 1h0m11 11h0m1-4h0m10-8h0m2 1h0m3-1h0m1 2h0m5-2h0m0 2h0m4-1h0m12 1h0m3 7h0m3 0h0m0-1h0m1-1h0m0 4h0m0-1h0m2 0h0m4-3h0m251 7h0m1-8h0m0 6h0m1-2h0m0 1h0m-762 6h0m0 12h0m0-6h0m2-1h0m2-7h0m3 6h0m1 5h0m3-1h0m447-5h0m0-4h0m38 18h0m2 0h0m3-4h0m0 3h0m1-1h0m1-2h0m0 4h0m5-1h0m1 1h0m0-4h0m2 3h0m1 0h0m1 1h0m2-2h0m1 1h0m1-1h0m240-9h0m0 8h0m1-8h0m0 6h0m2-5h0m0-7h0m0 6h0m1-3h0m-805 21h0m7 2h0m42 10h0m1-5h0m1-2h0m5 7h0m8-5h0m1 2h0m5 3h0m1-3h0m7 1h0m4-3h0m1 3h0m2 1h0m4 2h0m5-2h0m5-4h0m1 6h0m0-6h0m200-1h0m4-6h0m1 5h0m1-6h0m1 7h0m1 1h0m5-7h0m1 7h0m2-9h0m0 1h0m1 0h0m0 8h0m9-7h0m1 6h0m9 0h0m2-8h0m1 8h0m1 0h0m5-8h0m3 1h0m0-1h0m2 9h0m3-8h0m0 7h0m2-7h0m1 8h0m0-1h0m1 0h0m4-8h0m1 0h0m3 8h0m0 1h0m1-1h0m1-1h0m0 2h0m2-9h0m1 9h0m1-1h0m1 1h0m4-1h0m5 0h0m3-8h0m1 7h0m0 2h0m4-2h0m3-7h0m3 8h0m0 1h0m1 0h0m0-7h0m2-1h0m0 7h0m2-8h0m3 1h0m1 7h0m2-8h0m4-1h0m2 0h0m1 0h0m3 0h0m1 0h0m1 11h0m4 0h0m0-11h0m0 12h0m4 0h0m3 0h0m0-13h0m8 1h0m3 12h0m0-12h0m5 13h0m1-1h0m0-12h0m2 0h0m0 13h0m7-15h0m7 15h0m2 0h0m2 0h0m0 1h0m10-2h0m2-12h0m0-1h0m3 1h0m4-2h0m2 0h0m0 15h0m2 1h0m4-1h0m3-1h0m1 0h0m4 1h0m3-15h0m3 15h0m2 1h0m1-16h0m1 15h0m1 1h0m6-14h0m2 13h0m2 0h0m2 0h0m3-15h0m0 2h0m0 12h0m3 3h0m2-2h0m2 1h0m3 0h0m1 0h0m0-17h0m0 1h0m16 18h0m-507 19h0m0-15h0m1 8h0m1-3h0m2 3h0m0-9h0m0 4h0m2 3h0m1-4h0m1 13h0m2-12h0m1 11h0m1-10h0m3 10h0m2-10h0m4-4h0m2 4h0m1 10h0m2-2h0m2-1h0m0-10h0m2-3h0m2 16h0m1-17h0m0 2h0m0 13h0m1-1h0m0 3h0m1-9h0m0 6h0m1 0h0m2 1h0m0 1h0m4-5h0m2 3h0m0 2h0m0-8h0m0-1h0m2-6h0m2 0h0m1 3h0m2 12h0m1-16h0m1 1h0m3-1h0m446 9h0m6-5h0m1 10h0m0 2h0m0-5h0m1-11h0m1 5h0m3 13h0m1-1h0m7 0h0m3-7h0m3-3h0m3 0h0m6 3h0m1-2h0m4-1h0m4-1h0m1 4h0m1 1h0m2-3h0m0 9h0m5-8h0m1 8h0m2 0h0m3-5h0m0-5h0m2 0h0m1 5h0m5-7h0m1 4h0m4-3h0m3 5h0m2-5h0m1 3h0m2 1h0m8-5h0m3 12h0m3-10h0m2 7h0m3 1h0m0 3h0m0-10h0m2 6h0m3 1h0m2 2h0m5-1h0m0-2h0m1 0h0m1 3h0m1-2h0m1-4h0m0-4h0m1 10h0m1-12h0m3 10h0m0-5h0m1 1h0m5 2h0m2 5h0m7-2h0m7 1h0m5-7h0m3 8h0m0 1h0m1-7h0m1-1h0m1 3h0m2 1h0m0-2h0m2 4h0m1-2h0m9-4h0m3 4h0m1 3h0m2-7h0m1 3h0m4 0h0m5 4h0m6-7h0m1 0h0m1 4h0m10-2h0m5-1h0m1 7h0m1-6h0m1 4h0m9-4h0m3-1h0m5 4h0m5-5h0m0 6h0m7-1h0m1-1h0m3 2h0m9-4h0m1-9h0m1 4h0m3 7h0m1 2h0m-760 17h0m1-8h0m3 8h0m1 5h0m3-1h0m4 0h0m4 0h0m2-2h0m1 1h0m2-17h0m5 16h0m1-8h0m1 5h0m3-12h0m0 12h0m1-3h0m2 3h0m1-13h0m5 16h0m1-7h0m2-8h0m4 2h0m4-3h0m2 8h0m2-5h0m1 14h0m455-8h0m0 2h0m4 4h0m0-10h0m2 1h0m6 12h0m0-10h0m1 7h0m0-2h0m1-12h0m2 9h0m1 8h0m4-1h0m10-15h0m2 2h0m1 13h0m0-5h0m4-6h0m1 6h0m1-7h0m1-3h0m1 16h0m4-12h0m0 3h0m1 2h0m1 5h0m4-4h0m5-9h0m0 3h0m0 4h0m0-10h0m2 4h0m2 1h0m3-3h0m7 7h0m4-1h0m1-4h0m2 15h0m1-7h0m5-3h0m0-1h0m3-6h0m0 3h0m2 10h0m1-6h0m1 6h0m3-7h0m5-3h0m1 1h0m0 3h0m3 2h0m4-6h0m4 13h0m5-7h0m5-4h0m2-4h0m4 5h0m2 2h0m4 7h0m2-14h0m1 7h0m0-7h0m4 14h0m2-4h0m3 1h0m2 4h0m0-5h0m1-5h0m6 9h0m2 0h0m4-10h0m3-2h0m1-2h0m11-3h0m0 13h0m3-8h0m1 11h0m2-4h0m3 3h0m0-12h0m3-1h0m2-1h0m5 1h0m2 2h0m0-1h0m4 2h0m3 7h0m3-6h0m0 2h0m1-4h0m0 3h0m4-2h0m2 2h0m0-5h0m2-2h0m6 1h0m2 1h0m0 7h0m0 2h0m1-1h0m1-8h0m16 10h0m0 5h0m7-4h0m-754 19h0m3-1h0m16-8h0m8-2h0m8 11h0m1 4h0m4-15h0m4 15h0m4-12h0m3 15h0m460-2h0m17-15h0m15 2h0m10-1h0m12-3h0m1 15h0m10-15h0m19 16h0m11-1h0m3-14h0m1 0h0m19 16h0m6-2h0m5-14h0m2 2h0m4 2h0m0 8h0m1-4h0m6-3h0m4 4h0m9 3h0m3-12h0m4 2h0m12 12h0m4 3h0m9-2h0m0-7h0m9-4h0m7-5h0m6 5h0m31 3h0m-745 18h0m17 1h0m8 10h0m10-5h0m4-10h0m480 11h0m5-12h0m1 5h0m11 6h0m14-6h0m3-5h0m8 7h0m9 5h0m9-5h0m2-4h0m11 3h0m2 7h0m13 5h0m37-19h0m22 2h0m5 2h0m22 10h0m18-4h0m3-8h0m5-2h0m9 17h0m2-10h0m8-6h0m-740 30h0m2-5h0m4 8h0m7-4h0m7-7h0m1 13h0m8-12h0m4 10h0m11 5h0m468-3h0m4-11h0m7 6h0m66-3h0m7-2h0m34 2h0m17-2h0m20 5h0m3 3h0m5-3h0m2 0h0m31 0h0m7-6h0m1 10h0m3 3h0m-709 13h0m4 4h0m2-11h0m1 3h0m19 7h0m8 3h0m469-14h0m22 12h0m0-11h0m29 7h0m38-3h0m2 6h0m25-3h0m6-4h0m10-4h0m15 11h0m15 0h0m3-7h0m33 3h0m14-2h0m23-4h0m-734 16h0m0 6h0m0 2h0m10-6h0m5 13h0m11-8h0m3-3h0m1 1h0m466-3h0m5 1h0m16 14h0m26-10h0m28-5h0m99 11h0m25 5h0m10-9h0m30 5h0m-750 6h0m3 5h0m22-4h0m1 2h0m3 12h0m1 4h0m10-14h0m4-5h0m0 19h0m499-7h0m41-8h0m35 0h0m28-4h0m71 18h0m8-17h0m-699 32h0m2-9h0m492 12h0m7-2h0m25-11h0m12 10h0m33-13h0m33 11h0m28-7h0m52 2h0m-703 21h0m2 5h0m27 3h0m10-15h0m459 12h0m26 0h0m4-5h0m64 11h0m9-2h0m1-3h0m11 2h0m14-7h0m27-1h0m4 4h0m3-1h0m30-10h0m13 9h0m15-6h0m-736 34h0m20-14h0m1-3h0m8 16h0m28 0h0m457 2h0m34 0h0m39-10h0m67 5h0m12 6h0m15-16h0m-679 32h0m8-5h0m1 5h0m14 2h0m16 2h0m8-11h0m454 10h0m3-13h0m1 8h0m1-1h0m2 5h0m6 1h0m0 1h0m6-11h0m1 11h0m1-16h0m3 15h0m5-16h0m2 15h0m1-7h0m16-1h0m5-6h0m1 2h0m2 3h0m0 11h0m4-7h0m1 3h0m2 1h0m2-9h0m11 8h0m8 3h0m19-11h0m7 9h0m4-1h0m1 4h0m4-2h0m6-5h0m3 5h0m13 1h0m2-3h0m2-10h0m9 10h0m6-3h0m2 6h0m1-12h0m18 0h0m8-5h0m1 3h0m12-1h0m1 3h0m13 6h0m3 2h0m10 2h0m14-8h0m4 6h0m0 1h0m5-5h0m2 7h0m-750 16h0m3-7h0m5-6h0m21 12h0m3-11h0m5 0h0m0 13h0m3-13h0m4 5h0m449 13h0m1-18h0m0 2h0m0 3h0m7 8h0m3 0h0m2 0h0m1-7h0m3 8h0m2-3h0m0-1h0m4 8h0m21-3h0m0-8h0m2-6h0m3 5h0m0 8h0m2-3h0m2-1h0m0-6h0m5 2h0m2 12h0m13-15h0m2 4h0m5-8h0m3 9h0m3 5h0m9 0h0m1-5h0m4-6h0m1 10h0m10 6h0m0-9h0m6 0h0m4 2h0m1 1h0m3 1h0m1 2h0m10 0h0m2-9h0m3-4h0m0-1h0m1 8h0m0-10h0m6 1h0m1 11h0m1 1h0m1-10h0m9-2h0m2 9h0m0 1h0m4 2h0m2 3h0m14-4h0m3-7h0m2 11h0m4-16h0m3 14h0m1-3h0m5-8h0m4 14h0m2 2h0m1-15h0m4 5h0m0 9h0m2-17h0m5 15h0m3-7h0m0 3h0m3-6h0m3 8h0m2-9h0m2 3h0m6 0h0m4 10h0m4-13h0m2-2h0m8 8h0m-748 10h0m2 2h0m1 4h0m14 1h0m4 7h0m21-3h0m1 5h0m5-16h0m404 7h0m43-5h0m1 9h0m2-12h0m1 3h0m2 15h0m0-16h0m2 16h0m7-10h0m5 2h0m2 4h0m3-14h0m7 11h0m11 5h0m16 1h0m1-17h0m0 4h0m1 13h0m2-2h0m8-3h0m16 1h0m8-11h0m6 0h0m2-2h0m35 18h0m11-1h0m2-16h0m1 12h0m0-7h0m17 6h0m6-2h0m2 4h0m8-5h0m3-7h0m2 4h0m9 2h0m1 8h0m6-4h0m7 7h0m4-9h0m14-10h0m4 15h0m2-2h0m10 4h0m-741 7h0m27 8h0m4 7h0m7-5h0m0 2h0m456-16h0m21 14h0m5 2h0m1-11h0m1 9h0m4-14h0m5 13h0m1-2h0m6 5h0m1-12h0m3 10h0m1 4h0m6-14h0m6 11h0m0-8h0m2 8h0m1-6h0m1 10h0m1-6h0m9-8h0m1 11h0m3-6h0m16 7h0m3 0h0m0-9h0m5 11h0m0-7h0m5-9h0m5 3h0m2 11h0m2-7h0m5 5h0m3-1h0m3-2h0m0-8h0m3-2h0m21 9h0m0-5h0m2-1h0m4-1h0m8 8h0m0-9h0m0 8h0m2 6h0m6-1h0m5 1h0m2-3h0m26-7h0m2 1h0m6-5h0m8 4h0m5 3h0m5 8h0m6-13h0m6-5h0m-745 25h0m19 14h0m3-2h0m7-8h0m9 4h0m3 1h0m12 4h0m3-14h0m447-2h0m4 15h0m3-16h0m25 12h0m21 5h0m46-16h0m1 17h0m11-13h0m9 11h0m2-11h0m21 13h0m22-6h0m13 4h0m6-10h0m8-4h0m4-3h0m10 9h0m32 5h0m1 5h0m2-11h0m5-5h0m8 9h0m-757 9h0m619 6h0m54 1h0m42-4h0m42-3h0"/>
</g>
<g font-size="27.6" fill="#000" stroke="#fff" stroke-width=".2">
<path transform="translate(34.3 419.2) scale(0.01348 -0.01348)" stroke-width="14.8" d="M515 0V1237L197 1010V1180L530 1409H696V0Z"/>
<text x="34.3" y="353.2">2</text>
<text x="34.3" y="287.2">3</text>
<text x="34.3" y="221.2">4</text>
<text x="34.3" y="155.2">5</text>
<text x="34.3" y="89.2">6</text>
<text x="34.3" y="23.2">7</text>
<path transform="translate(384.3 419.2) scale(0.01348 -0.01348)" stroke-width="14.8" d="M515 0V1237L197 1010V1180L530 1409H696V0Z"/>
<text x="384.3" y="353.2">2</text>
<text x="384.3" y="287.2">3</text>
<text x="384.3" y="221.2">4</text>
<text x="384.3" y="155.2">5</text>
<text x="384.3" y="89.2">6</text>
<text x="384.3" y="23.2">7</text>
<text x="44.8" y="437.7">0</text>
<text x="154.5" y="437.7">500</text>
<path transform="translate(271.8 437.7) scale(0.01348 -0.01348)" stroke-width="14.8" d="M515 0V1237L197 1010V1180L530 1409H696V0Z"/><text x="287.2" y="437.7">000</text>
<text x="379.5" y="437.7">880</text>
<text x="504.5" y="437.7">900</text>
<text x="629.5" y="437.7">920</text>
<text transform="translate(132.1 446.9) scale(0.9 1.05)">E</text>
<text x="149.4" y="460.6" font-size="20">0</text>
<text transform="translate(483.0 446.9) scale(0.9 1.05)">E</text>
<text x="500.8" y="461.2" font-size="20">0</text>
<text transform="translate(22.7 211.2) rotate(-90) scale(1.1 1)" text-anchor="middle" font-size="25.5">q</text>
<text transform="translate(372.7 211.2) rotate(-90) scale(1.1 1)" text-anchor="middle" font-size="25.5">q</text>
</g>
<text x="62" y="33.6" font-size="14.5" letter-spacing=".5">a)</text>
<text x="412" y="33.6" font-size="14.5" letter-spacing=".5">b)</text>
</svg>
</body></html>
